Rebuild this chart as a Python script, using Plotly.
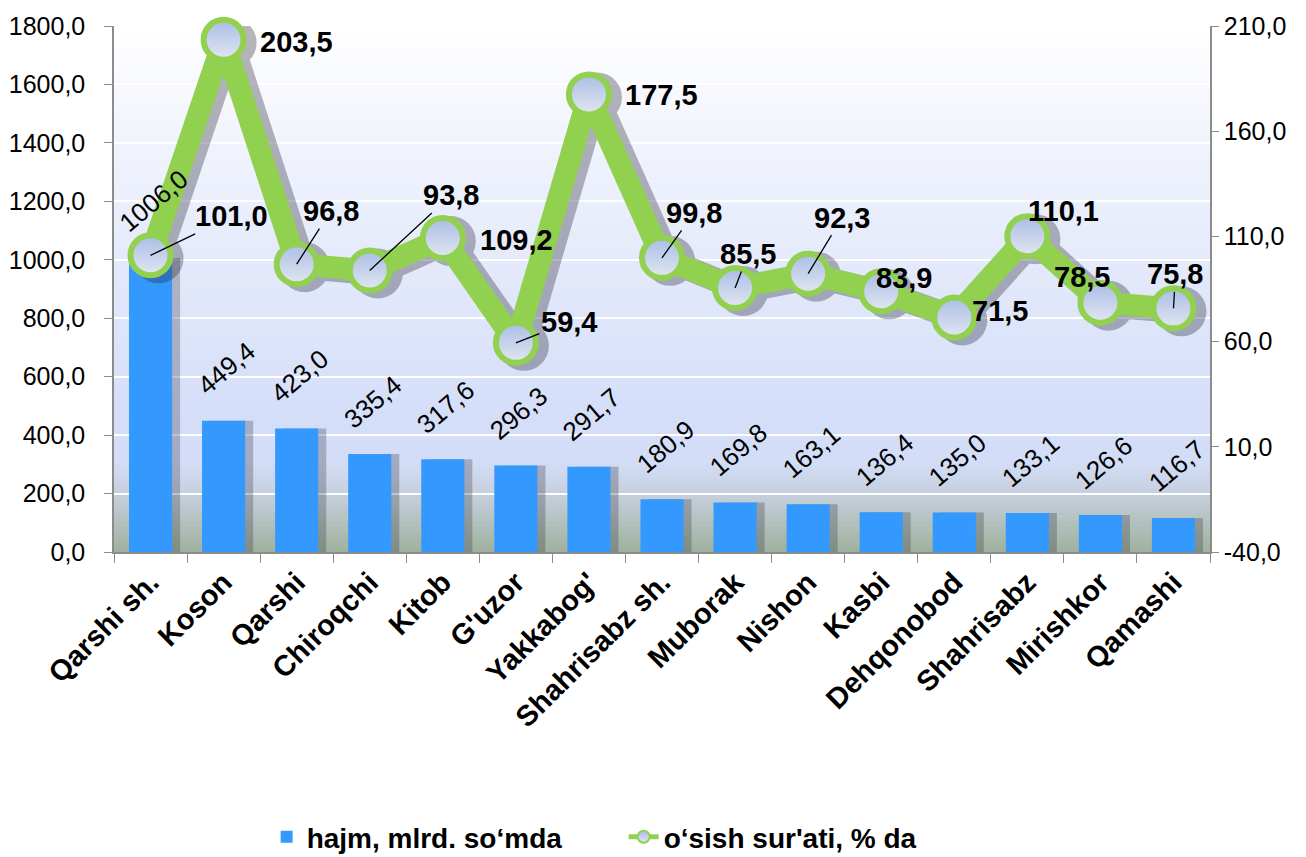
import math
import plotly.graph_objects as go

# ---------------- data ----------------
categories = ["Qarshi sh.", "Koson", "Qarshi", "Chiroqchi", "Kitob", "G'uzor",
              "Yakkabog'", "Shahrisabz sh.", "Muborak", "Nishon", "Kasbi",
              "Dehqonobod", "Shahrisabz", "Mirishkor", "Qamashi"]
volume = [1006.0, 449.4, 423.0, 335.4, 317.6, 296.3, 291.7, 180.9, 169.8,
          163.1, 136.4, 135.0, 133.1, 126.6, 116.7]
growth = [101.0, 203.5, 96.8, 93.8, 109.2, 59.4, 177.5, 99.8, 85.5, 92.3,
          83.9, 71.5, 110.1, 78.5, 75.8]
series_names = ["hajm, mlrd. so‘mda", "o‘sish sur'ati, % da"]
left_ticks = [0, 200, 400, 600, 800, 1000, 1200, 1400, 1600, 1800]
right_ticks = [-40, 10, 60, 110, 160, 210]

# ---------------- style ----------------
FONT = "Liberation Sans, Arial, sans-serif"
BAR_COLOR = "#3399FF"
LINE_COLOR = "#92D050"
BODY = 8  # default page margin around the figure div
W_PX, H_PX = 1306 - BODY, 857 - BODY
M_L, M_R, M_T, M_B = 114 - BODY, 96, 26 - BODY, 305
plot_w = W_PX - M_L - M_R
plot_h = H_PX - M_T - M_B
n = len(categories)
cat_px = plot_w / n

# shadow offsets (pixels)
sh_dx = 8
sh_dy = 3
dx_cat = sh_dx / cat_px
dy_val = sh_dy * 250 / plot_h

# label offsets (pixels) for line labels: (dx, dy, leader)
lab_off = [(81, -39, True), (73, 2, False), (34, -53, True), (81, -75, True),
           (74, 2, False), (53, -21, True), (73, 1, False), (32, -45, True),
           (13, -34, True), (34, -56, True), (23, -13, False), (46, -6, False),
           (36, -25, False), (-18, -26, False), (2, -34, True)]


def fmt(v):
    return f"{v:.1f}".replace(".", ",")


fig = go.Figure()

# bar shadow
fig.add_trace(go.Bar(x=categories, y=volume, xaxis="x", yaxis="y",
                     marker=dict(color="#3a3a48", line=dict(width=0)),
                     opacity=0.3, showlegend=False, hoverinfo="skip"))
# bars
fig.add_trace(go.Bar(x=categories, y=volume, xaxis="x2", yaxis="y",
                     name=series_names[0],
                     marker=dict(color=BAR_COLOR, line=dict(width=0))))
# line shadow
fig.add_trace(go.Scatter(x=categories, y=growth, xaxis="x3", yaxis="y3",
                         mode="lines+markers",
                         line=dict(color="#2a2a3a", width=24),
                         marker=dict(size=50, color="#2a2a3a", line=dict(width=0)),
                         opacity=0.34, showlegend=False, hoverinfo="skip"))
# line
fig.add_trace(go.Scatter(x=categories, y=growth, xaxis="x4", yaxis="y2",
                         name=series_names[1], mode="lines+markers",
                         line=dict(color=LINE_COLOR, width=22),
                         marker=dict(size=40, color="#A9BDE6",
                                     gradient=dict(type="vertical", color="#E2E7F0"),
                                     line=dict(color=LINE_COLOR, width=6)),
                         cliponaxis=False))

annotations = []
# bar labels (rotated, above bars)
BAR_FS = 26
for c, v in zip(categories, volume):
    txt = fmt(v)
    w = sum(0.278 if ch == "," else 0.556 for ch in txt) * BAR_FS
    h = 1.15 * BAR_FS
    half = (w * math.sin(math.radians(40)) + h * math.cos(math.radians(40))) / 2
    annotations.append(dict(x=c, y=v, xref="x2", yref="y", text=txt,
                            showarrow=False, textangle=-40,
                            xanchor="center", yanchor="middle",
                            xshift=3, yshift=20 + half,
                            font=dict(family=FONT, size=BAR_FS, color="black")))

# line labels
for i, (c, v) in enumerate(zip(categories, growth)):
    dx, dy, leader = lab_off[i]
    txt = fmt(v)
    if leader:
        annotations.append(dict(x=c, y=v, xref="x4", yref="y2", text=f"<b>{txt}</b>",
                                showarrow=True, arrowhead=0, arrowwidth=1.3,
                                arrowcolor="black", ax=dx, ay=dy, standoff=0,
                                font=dict(family=FONT, size=29, color="black")))
    else:
        annotations.append(dict(x=c, y=v, xref="x4", yref="y2", text=f"<b>{txt}</b>",
                                showarrow=False, xshift=dx, yshift=-dy,
                                font=dict(family=FONT, size=29, color="black")))


# background gradient (plot area)
def hex2rgb(hx):
    hx = hx.lstrip("#")
    return tuple(int(hx[k:k + 2], 16) for k in (0, 2, 4))


stops = [(26, "#FFFFFF"), (140, "#F1F4FD"), (300, "#E0E7FA"), (420, "#D4DEF9"),
         (462, "#D3DDF7"), (494, "#C6D0DE"), (552, "#9FB19D")]
stops_p = sorted(((552 - py) / plot_h, hex2rgb(col)) for py, col in stops)


def color_at(p):
    for (p0, c0), (p1, c1) in zip(stops_p[:-1], stops_p[1:]):
        if p0 <= p <= p1:
            t = (p - p0) / (p1 - p0) if p1 > p0 else 0
            return "rgb(%d,%d,%d)" % tuple(round(a + (b - a) * t) for a, b in zip(c0, c1))
    return "rgb(%d,%d,%d)" % stops_p[-1][1]


shapes = []
NB = 120
for k in range(NB):
    p0 = k / NB
    p1 = (k + 1) / NB
    shapes.append(dict(type="rect", xref="paper", yref="paper", x0=0, x1=1,
                       y0=p0, y1=min(1, p1 + 0.002), layer="below",
                       fillcolor=color_at((p0 + p1) / 2), line=dict(width=0)))

cat_range = [-0.5, n - 0.5]
shift_range = [-0.5 - dx_cat, n - 0.5 - dx_cat]
axis_grey = "#8c8c8c"
cat_common = dict(type="category", categoryorder="array", categoryarray=categories)

fig.update_layout(
    width=W_PX, height=H_PX,
    margin=dict(l=M_L, r=M_R, t=M_T, b=M_B, autoexpand=False),
    paper_bgcolor="white", plot_bgcolor="#D8E1F9",
    separators=", ",
    font=dict(family=FONT, size=25, color="black"),
    bargap=0.41,
    showlegend=True,
    legend=dict(orientation="h", x=0.465, xanchor="center", y=-0.542, yanchor="middle",
                font=dict(family=FONT, size=28, color="black", weight="bold"),
                itemsizing="constant", traceorder="normal",
                entrywidth=312, bgcolor="rgba(0,0,0,0)"),
    xaxis=dict(**cat_common, range=shift_range, visible=False),
    xaxis2=dict(**cat_common, range=cat_range, overlaying="x", side="bottom",
                tickangle=-45, ticks="outside", tickson="boundaries", ticklen=9,
                tickcolor=axis_grey, showline=True, linecolor=axis_grey, linewidth=1.5,
                showgrid=False,
                tickfont=dict(family=FONT, size=29, color="black", weight="bold")),
    xaxis3=dict(**cat_common, range=shift_range, overlaying="x", visible=False),
    xaxis4=dict(**cat_common, range=cat_range, overlaying="x", visible=False),
    yaxis=dict(range=[0, 1800], tickvals=left_ticks, ticktext=[fmt(t) for t in left_ticks],
               showline=True, linecolor=axis_grey, linewidth=1.5,
               ticks="outside", ticklen=8, tickcolor=axis_grey, ticklabelstandoff=14,
               showgrid=True, gridcolor="white", gridwidth=2, zeroline=False,
               tickfont=dict(family=FONT, size=25, color="black")),
    yaxis2=dict(range=[-40, 210], tickvals=right_ticks, ticktext=[fmt(t) for t in right_ticks],
                overlaying="y", side="right",
                showline=True, linecolor=axis_grey, linewidth=1.5,
                ticks="outside", ticklen=7, tickcolor=axis_grey,
                showgrid=False, zeroline=False,
                tickfont=dict(family=FONT, size=25, color="black")),
    yaxis3=dict(range=[-40 + dy_val, 210 + dy_val], overlaying="y", visible=False),
    annotations=annotations,
    shapes=shapes,
)

fig.write_html("out.html")
